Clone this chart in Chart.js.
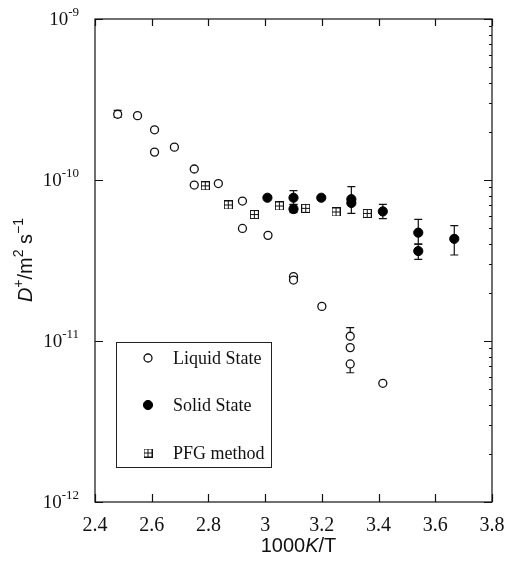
<!DOCTYPE html>
<html>
<head>
<meta charset="utf-8">
<script src="https://cdn.jsdelivr.net/npm/chart.js@4.4.1/dist/chart.umd.min.js"></script>
<style>
  html, body { margin: 0; padding: 0; background: #fff; }
  #wrap { width: 509px; height: 566px; }
</style>
</head>
<body>
<div id="wrap"><canvas id="diffusion" width="509" height="566"></canvas></div>
<script>
// Data

var xTicks = [2.4, 2.6, 2.8, 3, 3.2, 3.4, 3.6, 3.8];
var xTickLabels = ['2.4', '2.6', '2.8', '3', '3.2', '3.4', '3.6', '3.8'];
var yTicks = [1e-12, 1e-11, 1e-10, 1e-9];
var yTickExps = ['-12', '-11', '-10', '-9'];

var liquidX = [2.48, 2.55, 2.61, 2.61, 2.68, 2.75, 2.75, 2.835, 2.92, 2.92, 3.01, 3.10, 3.10, 3.20, 3.30, 3.30, 3.30, 3.415];
var liquidY = [2.56e-10, 2.51e-10, 2.05e-10, 1.49e-10, 1.60e-10, 1.17e-10, 9.3e-11, 9.5e-11, 7.4e-11, 5.0e-11, 4.53e-11, 2.51e-11, 2.39e-11, 1.64e-11, 1.07e-11, 9.1e-12, 7.2e-12, 5.46e-12];
var liquidLo = [2.45e-10, null, null, null, null, null, null, null, null, null, null, null, null, null, null, null, 6.35e-12, null];
var liquidHi = [2.71e-10, null, null, null, null, null, null, null, null, null, null, null, null, null, 1.21e-11, null, null, null];

var solidX = [3.008, 3.10, 3.10, 3.198, 3.304, 3.304, 3.415, 3.54, 3.54, 3.667];
var solidY = [7.76e-11, 7.76e-11, 6.6e-11, 7.76e-11, 7.6e-11, 7.2e-11, 6.38e-11, 4.71e-11, 3.62e-11, 4.31e-11];
var solidLo = [null, 7.06e-11, 6.27e-11, null, 6.2e-11, null, 5.75e-11, 4.0e-11, 3.21e-11, 3.42e-11];
var solidHi = [null, 8.6e-11, 7.0e-11, null, 9.1e-11, null, 7.06e-11, 5.7e-11, 4.0e-11, 5.2e-11];

var pfgX = [2.789, 2.870, 2.962, 3.050, 3.143, 3.250, 3.360];
var pfgY = [9.2e-11, 7.0e-11, 6.1e-11, 6.9e-11, 6.67e-11, 6.33e-11, 6.2e-11];

var seriesNames = ['Liquid State', 'Solid State', 'PFG method'];


// Helpers

function points(xs, ys) {
    return xs.map(function (x, i) { return { x: x, y: ys[i] }; });
}

// square with a cross, the PFG marker
function boxCross() {
    var c = document.createElement('canvas');
    c.width = 9; c.height = 9;
    var g = c.getContext('2d');
    g.strokeStyle = '#111';
    g.lineWidth = 1;
    g.strokeRect(0.5, 0.5, 8, 8);
    g.beginPath();
    g.moveTo(4.5, 0.5); g.lineTo(4.5, 8.5);
    g.moveTo(0.5, 4.5); g.lineTo(8.5, 4.5);
    g.stroke();
    return c;
}
var pfgMarker = boxCross();

// draw a row of text pieces (for italics and superscripts)
function runWidth(ctx, runs) {
    var w = 0;
    runs.forEach(function (r) { ctx.font = r.font; w += ctx.measureText(r.text).width; });
    return w;
}
function drawRuns(ctx, runs, x, y) {
    runs.forEach(function (r) {
        ctx.font = r.font;
        ctx.fillText(r.text, x, y + (r.dy || 0));
        x += ctx.measureText(r.text).width;
    });
}


// Plugins

var errorBars = {
    id: 'errorBars',
    beforeDatasetsDraw: function (chart) {
        var ctx = chart.ctx, xs = chart.scales.x, ys = chart.scales.y;
        var sets = [[liquidX, liquidY, liquidLo, liquidHi], [solidX, solidY, solidLo, solidHi]];
        ctx.save();
        ctx.strokeStyle = '#111';
        ctx.lineWidth = 1.2;
        sets.forEach(function (s) {
            s[0].forEach(function (x, i) {
                var lo = s[2][i], hi = s[3][i];
                if (lo === null && hi === null) return;
                var px = xs.getPixelForValue(x);
                var pLo = ys.getPixelForValue(lo === null ? s[1][i] : lo);
                var pHi = ys.getPixelForValue(hi === null ? s[1][i] : hi);
                ctx.beginPath();
                ctx.moveTo(px, pLo); ctx.lineTo(px, pHi);
                if (lo !== null) { ctx.moveTo(px - 4, pLo); ctx.lineTo(px + 4, pLo); }
                if (hi !== null) { ctx.moveTo(px - 4, pHi); ctx.lineTo(px + 4, pHi); }
                ctx.stroke();
            });
        });
        ctx.restore();
    }
};

var frame = {
    id: 'frame',
    afterDraw: function (chart) {
        var ctx = chart.ctx, a = chart.chartArea;
        var xs = chart.scales.x, ys = chart.scales.y;
        ctx.save();
        ctx.strokeStyle = '#111';
        ctx.lineWidth = 1.2;
        ctx.strokeRect(a.left, a.top, a.right - a.left, a.bottom - a.top);

        ctx.beginPath();
        xTicks.forEach(function (t) {
            var px = Math.round(xs.getPixelForValue(t)) + 0.5;
            ctx.moveTo(px, a.bottom); ctx.lineTo(px, a.bottom - 8);
            ctx.moveTo(px, a.top); ctx.lineTo(px, a.top + 7);
        });
        yTicks.forEach(function (t) {
            var py = Math.round(ys.getPixelForValue(t)) + 0.5;
            ctx.moveTo(a.left, py); ctx.lineTo(a.left + 8, py);
            ctx.moveTo(a.right, py); ctx.lineTo(a.right - 8, py);
        });
        ctx.stroke();

        // minor log ticks on the right side only
        ctx.beginPath();
        ctx.lineWidth = 1;
        for (var d = 0; d < yTicks.length - 1; d++) {
            for (var m = 2; m <= 9; m++) {
                var py = Math.round(ys.getPixelForValue(yTicks[d] * m)) + 0.5;
                ctx.moveTo(a.right, py); ctx.lineTo(a.right - 3, py);
            }
        }
        ctx.stroke();

        // tick labels
        ctx.fillStyle = '#111';
        ctx.textBaseline = 'middle';
        ctx.textAlign = 'center';
        ctx.font = '20px "Liberation Serif", "Times New Roman", serif';
        xTicks.forEach(function (t, i) {
            ctx.fillText(xTickLabels[i], xs.getPixelForValue(t), 526);
        });
        ctx.textAlign = 'left';
        yTicks.forEach(function (t, i) {
            var py = ys.getPixelForValue(t);
            var runs = [
                { text: '10', font: '19px "Liberation Serif", serif', dy: 1 },
                { text: yTickExps[i], font: '13px "Liberation Serif", serif', dy: -6 }
            ];
            drawRuns(ctx, runs, 79 - runWidth(ctx, runs), py);
        });

        // axis titles
        var sans = '"Liberation Sans", Arial, sans-serif';
        var xTitle = [
            { text: '1000', font: '20px ' + sans },
            { text: 'K', font: 'italic 20px ' + sans },
            { text: '/T', font: '20px ' + sans }
        ];
        drawRuns(ctx, xTitle, (a.left + a.right) / 2 + 5 - runWidth(ctx, xTitle) / 2, 546);

        var yTitle = [
            { text: 'D', font: 'italic 20px ' + sans },
            { text: '+', font: '14px ' + sans, dy: -7 },
            { text: '/m', font: '20px ' + sans },
            { text: '2', font: '14px ' + sans, dy: -7 },
            { text: ' s', font: '20px ' + sans },
            { text: '\u22121', font: '14px ' + sans, dy: -7 }
        ];
        ctx.translate(26, 260);
        ctx.rotate(-Math.PI / 2);
        drawRuns(ctx, yTitle, -runWidth(ctx, yTitle) / 2, 0);
        ctx.restore();

        // legend box
        ctx.save();
        ctx.strokeStyle = '#222';
        ctx.lineWidth = 1;
        ctx.strokeRect(116.5, 342.5, 155, 125);
        var rows = [358, 405, 453];
        ctx.textBaseline = 'middle';
        ctx.textAlign = 'left';
        rows.forEach(function (ry, i) {
            var ds = chart.data.datasets[i];
            ctx.fillStyle = ds.backgroundColor;
            ctx.strokeStyle = ds.borderColor;
            ctx.lineWidth = ds.borderWidth;
            Chart.helpers.drawPoint(ctx, {
                pointStyle: ds.pointStyle,
                radius: ds.pointRadius,
                borderWidth: ds.borderWidth
            }, 148, ry);
            ctx.fillStyle = '#111';
            ctx.font = '18px "Liberation Serif", "Times New Roman", serif';
            ctx.fillText(seriesNames[i], 173, ry + 1);
        });
        ctx.restore();
    }
};


// Chart

var ctx = document.getElementById('diffusion');
new Chart(ctx, {
    type: 'scatter',
    data: {
        datasets: [{
            label: seriesNames[0],
            data: points(liquidX, liquidY),
            pointStyle: 'circle',
            pointRadius: 4,
            backgroundColor: '#fff',
            borderColor: '#111',
            borderWidth: 1.3,
            order: 3
        }, {
            label: seriesNames[1],
            data: points(solidX, solidY),
            pointStyle: 'circle',
            pointRadius: 4.6,
            backgroundColor: '#000',
            borderColor: '#000',
            borderWidth: 1,
            order: 2
        }, {
            label: seriesNames[2],
            data: points(pfgX, pfgY),
            pointStyle: pfgMarker,
            pointRadius: 4.5,
            backgroundColor: '#fff',
            borderColor: '#111',
            borderWidth: 1,
            order: 1
        }]
    },
    options: {
        responsive: false,
        animation: false,
        layout: { padding: { left: 95, right: 17, top: 19, bottom: 64 } },
        plugins: {
            legend: { display: false },
            tooltip: { enabled: false }
        },
        scales: {
            x: { type: 'linear', min: 2.4, max: 3.8, display: false },
            y: { type: 'logarithmic', min: 1e-12, max: 1e-9, display: false }
        }
    },
    plugins: [errorBars, frame]
});
</script>
</body>
</html>
